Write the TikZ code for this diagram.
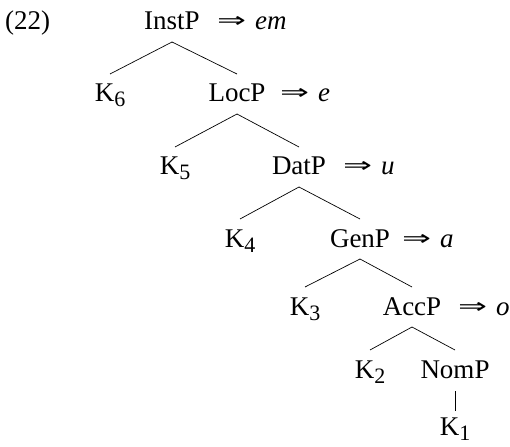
\documentclass[tikz,border=0pt]{standalone}
\usepackage{graphicx}
\usepackage{fontspec}
\setmainfont{Liberation Serif}
\newfontfamily\symfont{DejaVu Sans}
\newcommand{\ksub}[1]{K\raisebox{-5pt}{\fontsize{22}{22}\selectfont #1}}
\newcommand{\arr}{\resizebox{29pt}{11pt}{\symfont ⇒}}
\begin{document}
\begin{tikzpicture}[x=1pt,y=-1pt,
  lab/.style={inner sep=0pt,anchor=base,font=\fontsize{27}{32}\selectfont},
  arrlab/.style={inner sep=0pt,anchor=base west,font=\fontsize{27}{32}\selectfont},
  edge/.style={line width=0.7pt}]
\useasboundingbox (0,0) rectangle (510,446);
\node[arrlab] (ex) at (5,30) {(22)};
% labels
\node[lab] (instp) at (172,30) {InstP};
\node[arrlab] (a0) at (217,30) {\raisebox{2pt}{\arr}\hspace{9pt}\textit{em}};
\node[lab] (k6) at (110,102) {\ksub{6}};
\node[lab] (locp) at (237,102) {LocP};
\node[arrlab] (a1) at (280,102) {\raisebox{2pt}{\arr}\hspace{9pt}\textit{e}};
\node[lab] (k5) at (175,175) {\ksub{5}};
\node[lab] (datp) at (299,175) {DatP};
\node[arrlab] (a2) at (343,175) {\raisebox{2pt}{\arr}\hspace{9pt}\textit{u}};
\node[lab] (k4) at (240,247) {\ksub{4}};
\node[lab] (genp) at (360,247) {GenP};
\node[arrlab] (a3) at (402,247) {\raisebox{2pt}{\arr}\hspace{9pt}\textit{a}};
\node[lab] (k3) at (305,315) {\ksub{3}};
\node[lab] (accp) at (412,315) {AccP};
\node[arrlab] (a4) at (458,315) {\raisebox{2pt}{\arr}\hspace{9pt}\textit{o}};
\node[lab] (k2) at (370,378) {\ksub{2}};
\node[lab] (nomp) at (455,378) {NomP};
\node[lab] (k1) at (455,435) {\ksub{1}};
% edges
\foreach \p/\c in {instp/k6,instp/locp,locp/k5,locp/datp,datp/k4,datp/genp,genp/k3,genp/accp,accp/k2,accp/nomp}
  \draw[edge] ([yshift=-12pt]\p.base) -- ([yshift=28pt]\c.base);
\draw[edge] ([yshift=-13pt]nomp.base) -- ([yshift=24pt]k1.base);
\end{tikzpicture}
\end{document}
